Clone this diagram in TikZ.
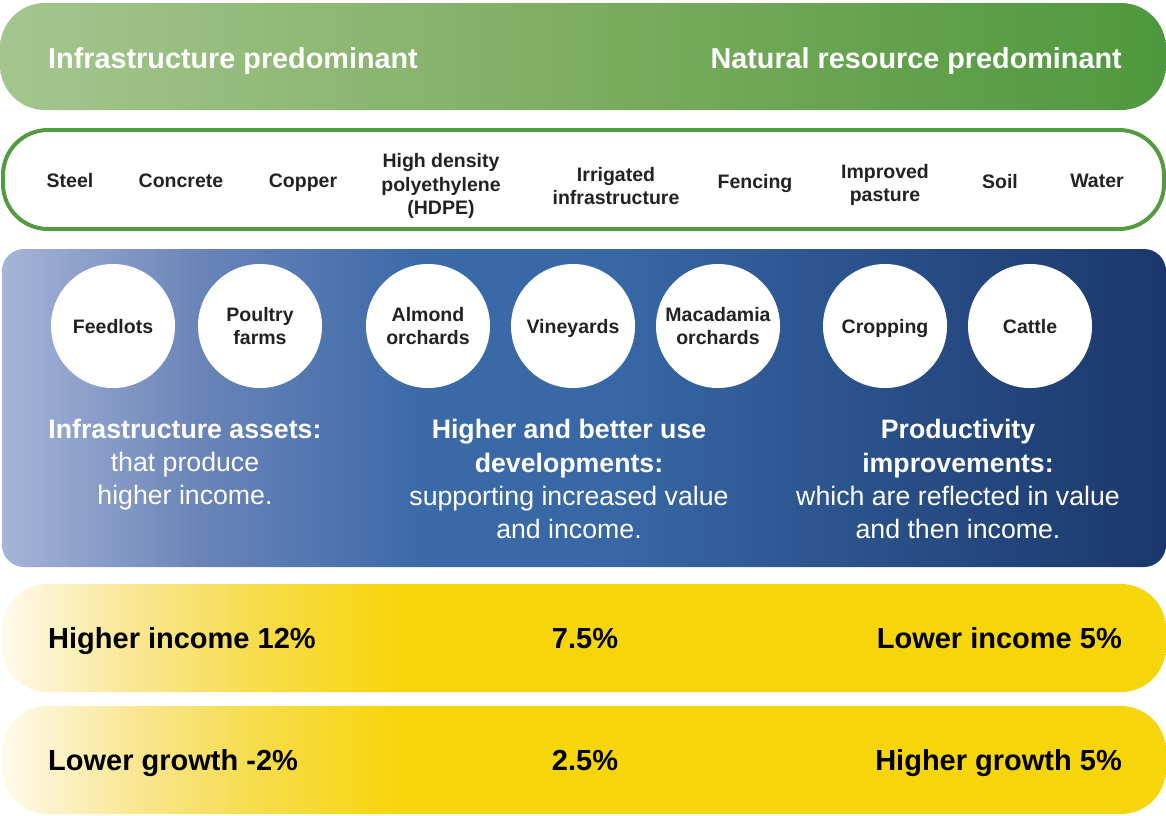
\documentclass[tikz,border=0pt]{standalone}
\usepackage{fontspec}
\setmainfont{Liberation Sans}
\usetikzlibrary{positioning}

\definecolor{greenL}{HTML}{A4C68E}
\definecolor{greenM}{HTML}{7DAD60}
\definecolor{greenR}{HTML}{4E983D}
\definecolor{rimgreen}{HTML}{529B3E}
\definecolor{blueA}{HTML}{A6B4D8}
\definecolor{blueB}{HTML}{6A84B8}
\definecolor{blueC}{HTML}{3B6AA8}
\definecolor{blueD}{HTML}{3767A5}
\definecolor{blueE}{HTML}{1B376B}
\definecolor{yelA}{HTML}{FEFAEC}
\definecolor{yelB}{HTML}{F9E795}
\definecolor{yelC}{HTML}{F7DC4A}
\definecolor{yelD}{HTML}{F7D50B}
\definecolor{inkgrey}{HTML}{222222}

\pgfdeclarehorizontalshading{greenbar}{100bp}{color(0bp)=(greenL); color(25bp)=(greenL); color(50bp)=(greenM); color(75bp)=(greenR); color(100bp)=(greenR)}
\pgfdeclarehorizontalshading{bluepanel}{100bp}{color(0bp)=(blueA); color(25bp)=(blueA); color(33.5bp)=(blueB); color(43bp)=(blueC); color(51.5bp)=(blueD); color(75bp)=(blueE); color(100bp)=(blueE)}
\pgfdeclarehorizontalshading{yellowbar}{100bp}{color(0bp)=(yelA); color(25bp)=(yelA); color(30.5bp)=(yelB); color(36bp)=(yelC); color(42bp)=(yelD); color(100bp)=(yelD)}

\begin{document}
\begin{tikzpicture}[
    x=1pt,y=-1pt,
    title/.style={text=white, font=\bfseries\fontsize{28.8}{34}\selectfont, inner sep=0pt, text depth=0pt},
    item/.style={text=inkgrey, align=center, font=\bfseries\fontsize{19.5}{23.5}\selectfont, inner sep=0pt, text depth=0pt},
    disc/.style={circle, fill=white, minimum size=124pt, inner sep=0pt, text=inkgrey, align=center, text depth=0pt, font=\bfseries\fontsize{19.5}{23.5}\selectfont},
    blurb/.style={text=white, align=center, font=\fontsize{26.7}{33.3}\selectfont, inner sep=0pt, text depth=0pt},
    rate/.style={text=black, font=\bfseries\fontsize{29}{34}\selectfont, inner sep=0pt, text depth=0pt}
    ]
	\useasboundingbox (0,0) rectangle (1166,815);

	% bands
	\path[shading=greenbar, rounded corners=45pt] (0,3) rectangle (1166,110);
	\draw[rimgreen, line width=4pt, rounded corners=45pt] (3,130) rectangle (1164,229);
	\path[shading=bluepanel, rounded corners=22pt] (2,249) rectangle (1166,567);
	\path[shading=yellowbar, rounded corners=45pt] (2,584) rectangle (1166,692);
	\path[shading=yellowbar, rounded corners=45pt] (2,706) rectangle (1166,814);

	% headings
	\node [title, anchor=west] (infra) at (48,58) {Infrastructure predominant};
	\node [title, anchor=east] (natural) at (1122,58) {Natural resource predominant};

	% inputs
	\node [item] (steel) at (70,180) {Steel};
	\node [item] (concrete) at (181,181) {Concrete};
	\node [item] (copper) at (303,181) {Copper};
	\node [item] (hdpe) at (441,184) {High density\\polyethylene\\(HDPE)};
	\node [item] (irrigated) at (616,186) {Irrigated\\infrastructure};
	\node [item] (fencing) at (755,181) {Fencing};
	\node [item] (pasture) at (885,183) {Improved\\pasture};
	\node [item] (soil) at (1000,181) {Soil};
	\node [item] (water) at (1097,181) {Water};

	% sectors
	\node [disc] (feedlots) at (113,326) {Feedlots};
	\node [disc] (poultry) at (260,326) {Poultry\\farms};
	\node [disc] (almond) at (428,326) {Almond\\orchards};
	\node [disc] (vineyards) at (573,326) {Vineyards};
	\node [disc] (macadamia) at (718,326) {Macadamia\\orchards};
	\node [disc] (cropping) at (885,326) {Cropping};
	\node [disc] (cattle) at (1030,326) {Cattle};

	\node [blurb] (assets) at (185,462) {\textbf{Infrastructure assets:}\\that produce\\higher income.};
	\node [blurb] (hbu) at (569,479) {\textbf{Higher and better use}\\\textbf{developments:}\\supporting increased value\\and income.};
	\node [blurb] (productivity) at (958,479) {\textbf{Productivity}\\\textbf{improvements:}\\which are reflected in value\\and then income.};

	% returns
	\node [rate, anchor=west] (incomehi) at (48,638) {Higher income 12\%};
	\node [rate] (incomemid) at (585,638) {7.5\%};
	\node [rate, anchor=east] (incomelo) at (1122,638) {Lower income 5\%};
	\node [rate, anchor=west] (growthlo) at (48,760) {Lower growth -2\%};
	\node [rate] (growthmid) at (585,760) {2.5\%};
	\node [rate, anchor=east] (growthhi) at (1122,760) {Higher growth 5\%};
\end{tikzpicture}
\end{document}
